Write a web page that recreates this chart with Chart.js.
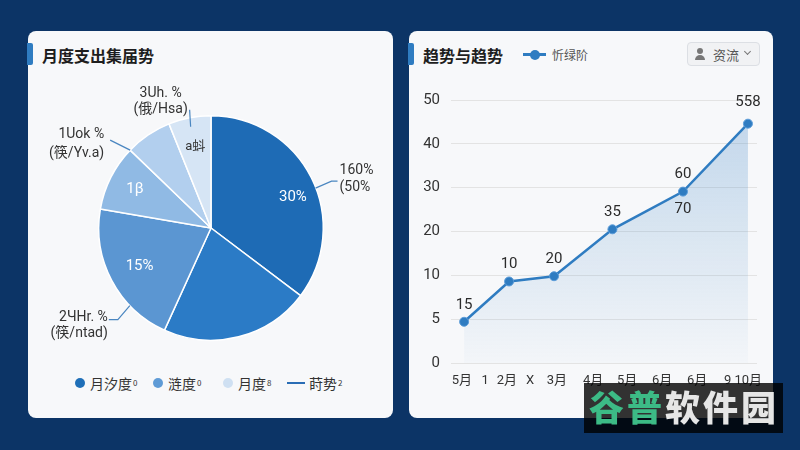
<!DOCTYPE html>
<html>
<head>
<meta charset="utf-8">
<script src="https://cdn.jsdelivr.net/npm/chart.js@4.4.1/dist/chart.umd.min.js"></script>
<style>
  body { margin: 0; width: 800px; height: 450px; overflow: hidden; background: #0c3466;
         font-family: Roboto, "Noto Sans CJK SC", sans-serif; position: relative; }
  .card { position: absolute; top: 31px; height: 387px; background: #f7f8fa; border-radius: 8px; }
  #left { left: 28px; width: 365px; }
  #right { left: 409px; width: 364px; }
  .bar { position: absolute; left: -1px; top: 12px; width: 6px; height: 22px; background: #2f7cc1; border-radius: 0 2px 2px 0; }
  .title { position: absolute; left: 14px; top: 12px; font: 700 16px "Noto Sans CJK SC", sans-serif; color: #1e1e1e; line-height: 24px; }
  canvas { position: absolute; left: 0; }
  .lg { position: absolute; top: 343px; font: 14px "Noto Sans CJK SC", sans-serif; color: #333; line-height: 18px; display: flex; align-items: center; }
  .lg i { display: inline-block; width: 10px; height: 10px; border-radius: 50%; margin-right: 5px; }
  .lg b { display: inline-block; width: 18px; height: 2.5px; margin-right: 4px; }
  .lg sup { font-size: 8px; vertical-align: 7px; margin-left: 1px; }
  .hl { position: absolute; left: 114px; top: 22px; width: 23px; height: 3px; background: #2f7cc1; }
  .hl::after { content: ""; position: absolute; left: 7px; top: -3.5px; width: 10px; height: 10px; border-radius: 50%; background: #2f7cc1; }
  .hlt { position: absolute; left: 143px; top: 15px; font: 12px "Noto Sans CJK SC", sans-serif; color: #555; }
  .dd { position: absolute; left: 278px; top: 11px; width: 71px; height: 22px; border: 1px solid #dcdfe4; border-radius: 4px; background: #f1f2f4; }
  .dd .head { position: absolute; left: 9px; top: 5px; width: 6px; height: 6px; border-radius: 50%; background: #777; }
  .dd .body { position: absolute; left: 7px; top: 12px; width: 10px; height: 5px; border-radius: 5px 5px 0 0; background: #777; }
  .dd span { position: absolute; left: 25px; top: 2px; font: 13px "Noto Sans CJK SC", sans-serif; color: #555; }
  .dd em { position: absolute; left: 57px; top: 6px; width: 4px; height: 4px; border-right: 1.3px solid #777; border-bottom: 1.3px solid #777; transform: rotate(45deg); }
  .wm { position: absolute; left: 584px; top: 383px; width: 199px; height: 50px; background: rgba(0,0,0,0.8); }
  .wm div { position: absolute; left: 5px; top: 1px; font: 900 35px "Noto Sans CJK SC", sans-serif; letter-spacing: 3px; color: #e6e6e6; line-height: 44px; white-space: nowrap; }
  .wm div span { color: #3cbb86; }
</style>
</head>
<body>
<div class="card" id="left">
  <div class="bar"></div>
  <div class="title">月度支出集届势</div>
  <canvas id="pieChart" width="365" height="290" style="top:39px"></canvas>
  <div class="lg" style="left:47px"><i style="background:#1f6fb8"></i>月汐度<sup>0</sup></div>
  <div class="lg" style="left:125px"><i style="background:#5f9bd6"></i>涟度<sup>0</sup></div>
  <div class="lg" style="left:195px"><i style="background:#cfe0f2"></i>月度<sup>8</sup></div>
  <div class="lg" style="left:259px"><b style="background:#2a6db5"></b>莳势<sup>2</sup></div>
</div>
<div class="card" id="right">
  <div class="bar"></div>
  <div class="title">趋势与趋势</div>
  <div class="hl"></div>
  <div class="hlt">忻绿阶</div>
  <div class="dd"><div class="head"></div><div class="body"></div><span>资流</span><em></em></div>
  <canvas id="lineChart" width="364" height="320" style="top:49px"></canvas>
</div>
<div class="wm"><div><span>谷普</span>软件园</div></div>

<script>
// pie data
const pieCategories = ["月汐度", "涟度", "月度", "其他一", "其他二", "其他三"];
const pieValues = [35.3, 21.5, 20.9, 9.5, 6.7, 6.1];
const pieInnerLabels = ["30%", "", "15%", "1β", "", "a蚪"];
const calloutTexts = [
	["160%", "(50%"],
	["3Uh. %", "(俄/Hsa)"],
	["1Uok %", "(筷/Yv.a)"],
	["2ЧHr. %", "(筷/ntad)"],
];

// line data
const xTickLabels = ["5月", "1", "2月", "X", "3月", "4月", "5月", "6月", "6月", "9 10月"];
const xTickValues = [0, 0.74, 1.44, 2.18, 3.04, 4.2, 5.29, 6.41, 7.53, 9.0];
const yTickValues = [0, 5, 10, 20, 30, 40, 50];
const lineX = [0.07, 1.51, 2.95, 4.82, 7.08, 9.16];
const lineY = [4.7, 9.3, 9.9, 20.5, 29.1, 44.6];
const labelsAbove = ["15", "10", "20", "35", "60", "558"];
const labelsBelow = ["", "", "", "", "70", ""];

const pieColors = ["#1e6bb5", "#2b7bc6", "#5b96d2", "#90bae4", "#b2cfee", "#d6e5f5"];
const innerTextColors = ["#fff", "#fff", "#fff", "#fff", "#fff", "#333"];
const innerTextRadius = [0.78, 0.72, 0.72, 0.76, 0.72, 0.74];

// where each callout sits: slice index, fraction along the arc, offsets
const calloutLayout = [
	{ slice: 0, at: 0.54, path: [[0, 1], [16, -6], [22, -6]], tx: 24, ty: [-17, 0], align: "left" },
	{ slice: 5, at: 0.5, path: [[1, 9], [0, -8]], tx: -29, ty: [-24, -8], align: "center" },
	{ slice: 3, at: 1.0, path: [[0, 0], [-20, -10]], tx: -26, ty: [-16, 3], align: "right" },
	{ slice: 2, at: 0.29, path: [[0, 0], [-12, 14], [-21, 14]], tx: -22, ty: [12, 28], align: "right" },
];

const pieText = {
	id: "pieText",
	afterDatasetsDraw(chart) {
		const ctx = chart.ctx;
		const arcs = chart.getDatasetMeta(0).data;
		ctx.save();
		ctx.textBaseline = "middle";
		arcs.forEach((arc, i) => {
			if (!pieInnerLabels[i]) return;
			const a = (arc.startAngle + arc.endAngle) / 2 + (i === 0 ? 0.1 : 0);
			const r = arc.outerRadius * innerTextRadius[i];
			ctx.fillStyle = innerTextColors[i];
			ctx.font = (i === 5 ? "13px" : "15px") + " Roboto, 'Noto Sans CJK SC'";
			ctx.textAlign = "center";
			ctx.fillText(pieInnerLabels[i], arc.x + r * Math.cos(a), arc.y + r * Math.sin(a));
		});
		ctx.strokeStyle = "#4a86c0";
		ctx.lineWidth = 1.2;
		ctx.fillStyle = "#333";
		ctx.font = "14px Roboto, 'Noto Sans CJK SC'";
		calloutLayout.forEach((c, k) => {
			const arc = arcs[c.slice];
			const a = arc.startAngle + c.at * (arc.endAngle - arc.startAngle);
			const ex = arc.x + arc.outerRadius * Math.cos(a);
			const ey = arc.y + arc.outerRadius * Math.sin(a);
			ctx.beginPath();
			c.path.forEach((p, j) => (j ? ctx.lineTo(ex + p[0], ey + p[1]) : ctx.moveTo(ex + p[0], ey + p[1])));
			ctx.stroke();
			ctx.textAlign = c.align;
			calloutTexts[k].forEach((t, j) => ctx.fillText(t, ex + c.tx, ey + c.ty[j]));
		});
		ctx.restore();
	},
};

new Chart(document.getElementById("pieChart"), {
	type: "pie",
	data: {
		labels: pieCategories,
		datasets: [{ data: pieValues, backgroundColor: pieColors, borderColor: "#ffffff", borderWidth: 1.5 }],
	},
	options: {
		responsive: false,
		animation: false,
		layout: { padding: { left: 70, top: 45, right: 69, bottom: 19 } },
		plugins: { legend: { display: false }, tooltip: { enabled: false } },
	},
	plugins: [pieText],
});

// y axis with evenly spaced, unevenly valued ticks
class StepScale extends Chart.LinearScale {
	buildTicks() {
		return yTickValues.map((v) => ({ value: v }));
	}
	getPixelForValue(value) {
		const t = yTickValues;
		const n = t.length - 1;
		let d = 1;
		if (value <= t[0]) d = 0;
		else {
			for (let i = 0; i < n; i++) {
				if (value <= t[i + 1]) {
					d = (i + (value - t[i]) / (t[i + 1] - t[i])) / n;
					break;
				}
			}
		}
		return this.getPixelForDecimal(d);
	}
	getValueForPixel(pixel) {
		const t = yTickValues;
		const d = this.getDecimalForPixel(pixel) * (t.length - 1);
		const i = Math.max(0, Math.min(Math.floor(d), t.length - 2));
		return t[i] + (d - i) * (t[i + 1] - t[i]);
	}
}
StepScale.id = "step";
StepScale.defaults = Chart.LinearScale.defaults;
Chart.register(StepScale);

const pointText = {
	id: "pointText",
	afterDatasetsDraw(chart) {
		const ctx = chart.ctx;
		ctx.save();
		ctx.fillStyle = "#2b2b2b";
		ctx.font = "15px Roboto, 'Noto Sans CJK SC'";
		ctx.textAlign = "center";
		ctx.textBaseline = "middle";
		chart.getDatasetMeta(0).data.forEach((pt, i) => {
			if (labelsAbove[i]) ctx.fillText(labelsAbove[i], pt.x, pt.y - (i === 5 ? 21 : 17));
			if (labelsBelow[i]) ctx.fillText(labelsBelow[i], pt.x, pt.y + 18);
		});
		ctx.restore();
	},
};

new Chart(document.getElementById("lineChart"), {
	type: "line",
	data: {
		datasets: [
			{
				data: lineX.map((x, i) => ({ x: x, y: lineY[i] })),
				borderColor: "#2f7cc1",
				borderWidth: 2.5,
				pointRadius: 4.5,
				pointBackgroundColor: "#2f7cc1",
				pointBorderColor: "#5a9bd8",
				pointBorderWidth: 1,
				tension: 0,
				fill: "start",
				backgroundColor: (c) => {
					const area = c.chart.chartArea;
					if (!area) return "rgba(47,124,193,0.15)";
					const g = c.chart.ctx.createLinearGradient(0, area.top, 0, area.bottom);
					g.addColorStop(0, "rgba(47,124,193,0.28)");
					g.addColorStop(1, "rgba(47,124,193,0.02)");
					return g;
				},
			},
		],
	},
	options: {
		responsive: false,
		animation: false,
		layout: { padding: { top: 20, right: 16, left: 0, bottom: 0 } },
		plugins: { legend: { display: false }, tooltip: { enabled: false } },
		scales: {
			x: {
				type: "linear",
				min: -0.35,
				max: 9.45,
				grid: { display: false },
				border: { display: false },
				afterBuildTicks: (s) => {
					s.ticks = xTickValues.map((v) => ({ value: v }));
				},
				afterFit: (s) => {
					s.height = 37;
				},
				ticks: {
					autoSkip: false,
					maxRotation: 0,
					padding: 2,
					color: "#333",
					font: { size: 13, family: "Roboto, 'Noto Sans CJK SC'" },
					callback: (v, i) => xTickLabels[i],
				},
			},
			y: {
				type: "step",
				min: 0,
				max: 50,
				grid: { color: "#e3e3e3", drawTicks: false },
				border: { display: false },
				afterFit: (s) => {
					s.width = 42;
				},
				ticks: {
					padding: 11,
					color: "#333",
					font: { size: 15, family: "Roboto, 'Noto Sans CJK SC'" },
					callback: (v) => String(v),
				},
			},
		},
	},
	plugins: [pointText],
});
</script>
</body>
</html>
